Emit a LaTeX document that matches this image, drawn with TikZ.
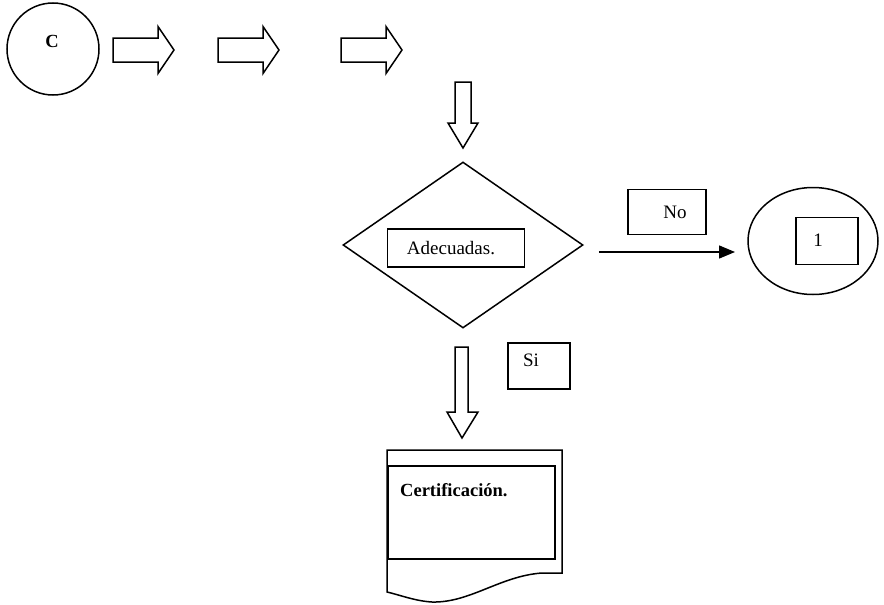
\documentclass[tikz,border=0pt]{standalone}
\usepackage{fontspec}
\setmainfont{Liberation Serif}
\usetikzlibrary{shapes.geometric,arrows.meta}
\tikzset{
  ln/.style={line width=1.5pt, line join=miter},
  box/.style={ln, draw, rectangle, inner sep=0pt},
  txt/.style={font=\fontsize{19}{22}\selectfont, inner sep=0pt},
  btxt/.style={font=\fontsize{18.5}{22}\selectfont\bfseries, inner sep=0pt},
  rarrow/.pic={\draw[ln] (0,-12) -- (45,-12) -- (45,-23.5) -- (61,0) -- (45,23.5) -- (45,12) -- (0,12) -- cycle;},
}
\begin{document}
\begin{tikzpicture}[x=1pt,y=-1pt]
\useasboundingbox (0,0) rectangle (884,605);
% start connector
\node[ln, draw, circle, minimum size=92pt, inner sep=0pt] (c) at (53,49) {};
\node[btxt] (ct) at (52,41) {C};
% right block arrows
\pic (a1) at (113,50) {rarrow};
\pic (a2) at (218,50) {rarrow};
\pic (a3) at (341,50) {rarrow};
% down block arrow 1
\draw[ln] (455,82) -- (471,82) -- (471,123) -- (478,123) -- (463,148) -- (448,123) -- (455,123) -- cycle;
% decision
\node[ln, draw, diamond, minimum width=240pt, minimum height=166pt, inner sep=0pt] (d) at (463,245) {};
\node[box, minimum width=137pt, minimum height=38pt] (ad) at (456,248) {};
\node[txt] (adt) at (451,248) {Adecuadas.};
% No branch
\node[box, minimum width=78pt, minimum height=45pt] (no) at (667,212) {};
\node[txt] (not) at (675,212) {No};
\node[ln, draw, ellipse, minimum width=130pt, minimum height=107pt, inner sep=0pt] (e) at (813,241) {};
\node[box, minimum width=62pt, minimum height=47pt] (one) at (827,241) {};
\node[txt] (onet) at (818,240) {1};
\draw[ln, -{Triangle[length=16pt,width=13pt]}] (d.east) ++(15,7) coordinate (ns) -- (735,252) coordinate (ne);
% Si branch
\draw[ln] (455,347) -- (468,347) -- (468,412) -- (478,412) -- (462,438) -- (447,412) -- (455,412) -- cycle;
\node[box, minimum width=62pt, minimum height=46pt] (si) at (539,366) {};
\node[txt] (sit) at (531,360) {Si};
% document
\draw[ln] (387,450) -- (562,450) -- (562,573) -- (542,573)
  .. controls (500,576) and (470,603) .. (432,602)
  .. controls (415,601) and (400,595) .. (387,592) -- cycle;
\node[box, minimum width=167pt, minimum height=93pt] (doc) at (471.5,512.5) {};
\node[btxt, anchor=west] (doct) at (400,490) {Certificación.};
\end{tikzpicture}
\end{document}
